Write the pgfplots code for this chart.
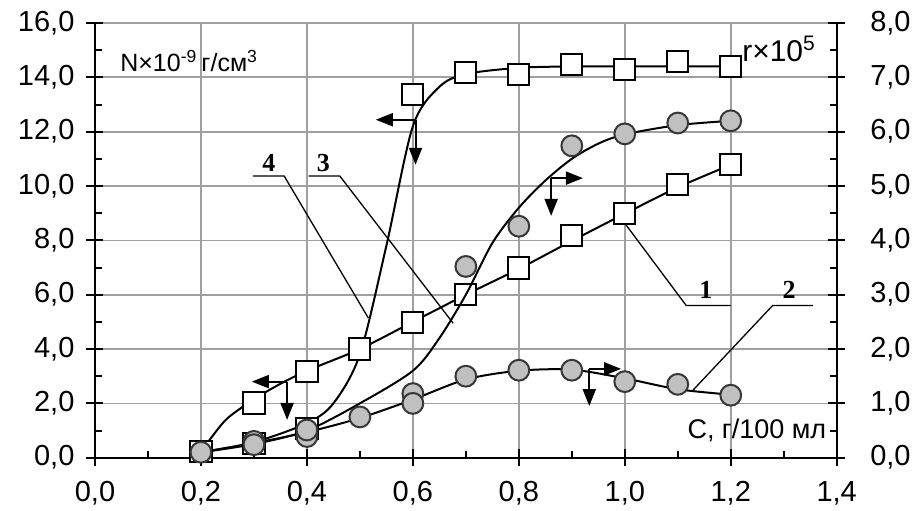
\documentclass[border=0pt]{standalone}
\usepackage{pgfplots}
\pgfplotsset{compat=1.18}
\usetikzlibrary{arrows.meta}
\usepackage{fontspec}
\setmainfont{Liberation Sans}
\newfontfamily\tnr{Liberation Serif}

\definecolor{gridgray}{RGB}{160,160,160}
\definecolor{dotfill}{RGB}{192,192,192}
\definecolor{dotedge}{RGB}{55,55,55}

\pgfplotsset{
  base/.style={
    width=370.85pt, height=217.35pt, scale only axis,
    xmin=0, xmax=1.4,
    tick align=center,
    major tick length=8.5pt,
    minor tick length=3.5pt,
    axis line style={line width=1pt},
    tick style={line width=1pt, black},
    tick label style={font=\fontsize{14.5}{16}\selectfont},
    /pgf/number format/use comma,
    /pgf/number format/fixed,
    /pgf/number format/fixed zerofill,
    /pgf/number format/precision=1,
    /pgf/number format/assume math mode=true,
  },
  sq/.style={only marks, mark=square*, mark size=5.3pt,
    mark options={fill=white, draw=black, line width=1pt}},
  dot/.style={only marks, mark=*, mark size=5.2pt,
    mark options={fill=dotfill, draw=dotedge, line width=1pt}},
  fit/.style={no marks, smooth, black, line width=1pt},
}
\tikzset{
  arr/.style={line width=1pt, -{Triangle[length=8.5pt,width=6.5pt]}},
  lead/.style={line width=0.65pt, black},
}

\begin{document}
\begin{tikzpicture}
\begin{axis}[base, name=L,
    ymin=0, ymax=16,
    xtick={0,0.2,0.4,0.6,0.8,1.0,1.2,1.4},
    ytick={0,2,4,6,8,10,12,14,16},
    minor x tick num=1, minor y tick num=1,
    axis x line*=bottom, axis y line*=left,
    grid=major, grid style={gridgray, line width=0.85pt},
    minor x tick style={yshift=1.75pt},
    minor y tick style={xshift=1.75pt},
    xticklabel style={yshift=-4pt},
    yticklabel style={xshift=-2.5pt},
  ]
% curve 1 (squares, left axis)
\addplot[sq] coordinates {(0.2,0.23) (0.3,2.01) (0.4,3.17) (0.5,4.0) (0.6,4.98) (0.7,6.0) (0.8,6.98) (0.9,8.18) (1.0,9.0) (1.1,10.05) (1.2,10.79)};
% curve 4 (squares, left axis)
\addplot[sq] coordinates {(0.3,0.53) (0.4,1.08) (0.6,13.37) (0.7,14.18) (0.8,14.1) (0.9,14.46) (1.0,14.28) (1.1,14.59) (1.2,14.4)};
% fitted lines
\addplot[fit] coordinates {(0.2,0.2) (0.22,0.75) (0.25,1.45) (0.3,2.15) (0.35,2.72) (0.4,3.2) (0.5,4.0) (0.6,5.0) (0.7,6.0) (0.8,6.95) (0.9,7.98) (1.0,8.98) (1.1,9.95) (1.2,10.78)};
\addplot[fit] coordinates {(0.2,0.2) (0.3,0.57) (0.4,1.27) (0.45,2.0) (0.5,3.8) (0.55,7.8) (0.6,12.2) (0.65,13.65) (0.7,14.12) (0.8,14.35) (0.9,14.4) (1.0,14.4) (1.2,14.4)};
% arrows
\draw[arr] (axis cs:0.3626,2.8) -- (axis cs:0.296,2.8);
\draw[arr] (axis cs:0.3626,2.8) -- (axis cs:0.3626,1.39);
\draw[arr] (axis cs:0.605,12.44) -- (axis cs:0.53,12.44);
\draw[arr] (axis cs:0.605,12.44) -- (axis cs:0.605,10.78);
\draw[arr] (axis cs:0.861,10.29) -- (axis cs:0.921,10.29);
\draw[arr] (axis cs:0.861,10.29) -- (axis cs:0.861,8.9);
\draw[arr] (axis cs:0.933,3.27) -- (axis cs:0.993,3.27);
\draw[arr] (axis cs:0.933,3.27) -- (axis cs:0.933,1.9);
% leader lines
\draw[lead] (axis cs:0.298,10.37) -- (axis cs:0.357,10.37) -- (axis cs:0.516,5.14);
\draw[lead] (axis cs:0.403,10.37) -- (axis cs:0.462,10.37) -- (axis cs:0.676,4.95);
\draw[lead] (axis cs:0.987,8.97) -- (axis cs:1.116,5.6) -- (axis cs:1.2,5.6);
\draw[lead] (axis cs:1.129,2.49) -- (axis cs:1.279,5.6) -- (axis cs:1.355,5.6);
\node[anchor=base, inner sep=0pt, font=\tnr\bfseries\fontsize{13}{15}\selectfont] at (axis cs:0.328,10.53) {4};
\node[anchor=base, inner sep=0pt, font=\tnr\bfseries\fontsize{13}{15}\selectfont] at (axis cs:0.431,10.53) {3};
\node[anchor=base, inner sep=0pt, font=\tnr\bfseries\fontsize{13}{15}\selectfont] at (axis cs:1.153,5.87) {1};
\node[anchor=base, inner sep=0pt, font=\tnr\bfseries\fontsize{13}{15}\selectfont] at (axis cs:1.310,5.87) {2};
% axis texts
\node[anchor=base west, inner sep=0pt, font=\fontsize{12.5}{14}\selectfont] at (axis cs:0.047,14.22) {N×10\textsuperscript{-9}\,г/см\textsuperscript{3}};
\node[anchor=base west, inner sep=0pt, font=\fontsize{15}{17}\selectfont] at (axis cs:1.221,14.59) {r×10\textsuperscript{5}};
\node[anchor=base east, inner sep=0pt, font=\fontsize{13.5}{15}\selectfont] at (axis cs:1.381,0.71) {C, г/100 мл};
\end{axis}

\begin{axis}[base,
    ymin=0, ymax=8,
    ytick={0,1,2,3,4,5,6,7,8},
    minor y tick num=1,
    axis x line=none, axis y line*=right,
    minor y tick style={xshift=-1.75pt},
    yticklabel style={xshift=9pt},
  ]
% curve 3 (circles, right axis)
\addplot[dot] coordinates {(0.2,0.1) (0.3,0.3) (0.4,0.39) (0.6,1.18) (0.7,3.52) (0.8,4.26) (0.9,5.74) (1.0,5.96) (1.1,6.16) (1.2,6.2)};
% curve 2 (circles, right axis)
\addplot[dot] coordinates {(0.3,0.24) (0.4,0.51) (0.5,0.75) (0.6,1.0) (0.7,1.5) (0.8,1.61) (0.9,1.61) (1.0,1.4) (1.1,1.35) (1.2,1.15)};
\addplot[fit] coordinates {(0.2,0.1) (0.3,0.25) (0.4,0.5) (0.5,1.0) (0.6,1.6) (0.65,2.2) (0.7,3.0) (0.75,3.95) (0.8,4.6) (0.85,5.1) (0.9,5.5) (0.95,5.78) (1.0,5.95) (1.1,6.12) (1.2,6.2)};
\addplot[fit] coordinates {(0.2,0.1) (0.3,0.27) (0.4,0.47) (0.5,0.73) (0.6,1.07) (0.7,1.44) (0.8,1.6) (0.9,1.62) (1.0,1.46) (1.1,1.26) (1.2,1.16)};
\end{axis}
\pgfresetboundingbox
\path (L.south west) ++(-47.5pt,-26.15pt) rectangle ++(459pt,255pt);
\end{tikzpicture}
\end{document}
